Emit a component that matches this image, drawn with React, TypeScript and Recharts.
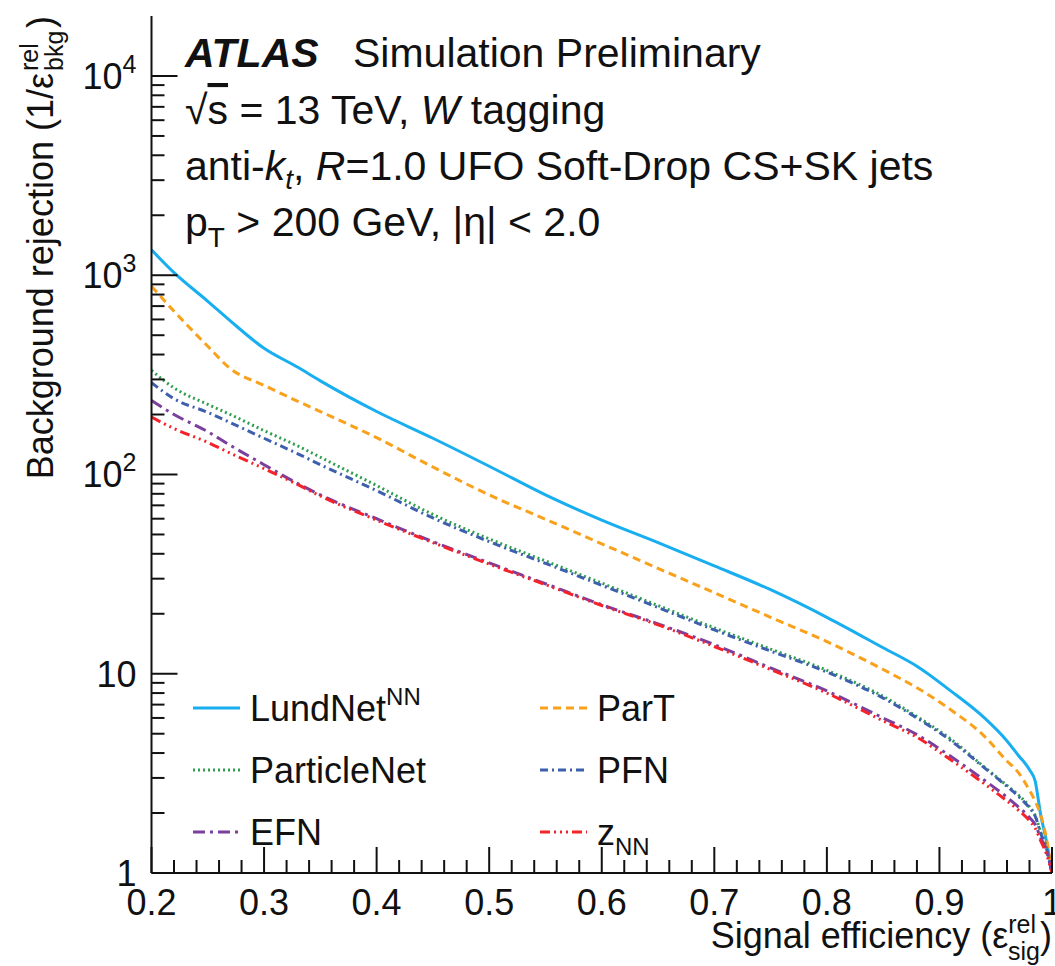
import React from 'react'
import { LineChart, Line, XAxis, YAxis } from 'recharts'

// signal efficiency points and background rejection per tagger
const efficiency = [0.2, 0.22, 0.25, 0.27, 0.3, 0.33, 0.35, 0.4, 0.45, 0.5, 0.55, 0.6, 0.65, 0.7, 0.75, 0.8, 0.85, 0.88, 0.91, 0.94, 0.96, 0.97, 0.98, 0.985, 0.99, 0.995, 1.0]
const lundNet = [1340, 1030, 740, 590, 430, 345, 295, 207, 152, 110, 79, 59, 45.5, 34.8, 26.4, 19.2, 13.5, 10.9, 8.2, 6.0, 4.6, 3.9, 3.3, 2.9, 1.95, 1.45, 1.0]
const parT = [880, 660, 440, 340, 280, 233, 207, 153, 109, 79, 59.6, 44.9, 33.8, 25.5, 19.2, 14.5, 10.5, 8.5, 6.6, 4.85, 3.65, 3.2, 2.6, 2.3, 1.95, 1.5, 1.0]
const particleNet = [333, 272, 225, 200, 166, 139, 122, 88, 63, 47.5, 36.8, 28.5, 22, 17, 13.3, 10.4, 7.7, 6.1, 4.7, 3.4, 2.75, 2.47, 2.15, 1.95, 1.6, 1.35, 1.0]
const pfn = [289, 240, 205, 182, 152, 127, 112, 83, 60.5, 46, 35.8, 27.8, 21.5, 16.6, 13.0, 10.2, 7.55, 6.0, 4.62, 3.37, 2.72, 2.43, 2.12, 1.93, 1.58, 1.33, 1.0]
const efn = [235, 200, 164, 140, 112, 90, 79, 60, 46, 36, 28.3, 22.2, 17.8, 14.0, 10.7, 8.2, 6.0, 4.95, 3.85, 2.92, 2.4, 2.15, 1.9, 1.75, 1.5, 1.3, 1.0]
const zNN = [194, 170, 145, 128, 107, 89, 78, 59, 45.5, 35.5, 28, 22, 17.6, 13.7, 10.5, 8.0, 5.8, 4.8, 3.7, 2.8, 2.3, 2.07, 1.83, 1.68, 1.45, 1.25, 1.0]

const xMajorTicks = [0.2, 0.3, 0.4, 0.5, 0.6, 0.7, 0.8, 0.9, 1.0]
const yMajorTicks = [1, 10, 100, 1000, 10000]

const FONT = '"Liberation Sans", Arial, Helvetica, sans-serif'
const INK = '#111'

const SERIES = [
  { key: 'lundNet', label: 'LundNet', sup: 'NN', sub: '', color: '#18aef0', dash: undefined, values: lundNet },
  { key: 'parT', label: 'ParT', sup: '', sub: '', color: '#f9a11b', dash: '8 5', values: parT },
  { key: 'particleNet', label: 'ParticleNet', sup: '', sub: '', color: '#2f9e4f', dash: '2 3', values: particleNet },
  { key: 'pfn', label: 'PFN', sup: '', sub: '', color: '#3d5fae', dash: '8 4 2 4', values: pfn },
  { key: 'efn', label: 'EFN', sup: '', sub: '', color: '#7b3f9e', dash: '12 5 3 5', values: efn },
  { key: 'zNN', label: 'z', sup: '', sub: 'NN', color: '#f5222a', dash: '10 4 2 4 2 4 2 4', values: zNN },
]

const rows = efficiency.map((eff, i) => {
  const row: Record<string, number> = { eff }
  SERIES.forEach((s) => { row[s.key] = s.values[i] })
  return row
})

// minor ticks every 0.02 on x, 2..9 per decade on y
const xTicks: number[] = []
for (let k = 0; k <= 40; k++) xTicks.push(Math.round((0.2 + k * 0.02) * 1000) / 1000)
const yTicks: number[] = []
yMajorTicks.forEach((d) => {
  yTicks.push(d)
  if (d < 10000) for (let m = 2; m <= 9; m++) yTicks.push(d * m)
})

const isMajorX = (v: number) => xMajorTicks.some((t) => Math.abs(t - v) < 1e-6)
const isMajorY = (v: number) => yMajorTicks.includes(v)

function BottomTick({ x, y, payload }: any) {
  const v = payload.value
  const major = isMajorX(v)
  return (
    <g>
      <line x1={x} y1={y} x2={x} y2={y - (major ? 26 : 13)} stroke={INK} strokeWidth={2} />
      {major && (
        <text x={x} y={y + 42} textAnchor="middle" fontSize={36} fontFamily={FONT} fill={INK}>
          {v === 1 ? '1' : v.toFixed(1)}
        </text>
      )}
    </g>
  )
}

function TopTick({ x, y, payload }: any) {
  const major = isMajorX(payload.value)
  return <line x1={x} y1={y} x2={x} y2={y + (major ? 26 : 13)} stroke={INK} strokeWidth={2} />
}

function LeftTick({ x, y, payload }: any) {
  const v = payload.value
  const major = isMajorY(v)
  const exp = Math.round(Math.log10(v))
  return (
    <g>
      <line x1={x} y1={y} x2={x + (major ? 26 : 13)} y2={y} stroke={INK} strokeWidth={2} />
      {major && (
        <text x={x - 15} y={y + 13} textAnchor="end" fontSize={36} fontFamily={FONT} fill={INK}>
          {exp <= 1 ? String(v) : (
            <>
              10<tspan fontSize={25} dy={-16}>{exp}</tspan>
            </>
          )}
        </text>
      )}
    </g>
  )
}

function RightTick({ x, y, payload }: any) {
  const major = isMajorY(payload.value)
  return <line x1={x} y1={y} x2={x - (major ? 26 : 13)} y2={y} stroke={INK} strokeWidth={2} />
}

function Overlay() {
  const legendX = [193, 540]
  const legendY = [708, 770, 832]
  return (
    <svg width={1055} height={966} style={{ position: 'absolute', left: 0, top: 0, pointerEvents: 'none' }} fontFamily={FONT}>
      <g fill={INK} fontSize={41}>
        <text x={185} y={67} fontWeight="bold" fontStyle="italic">ATLAS</text>
        <text x={353} y={67}>Simulation Preliminary</text>
        <text x={185} y={124}>
          √<tspan style={{ textDecoration: 'overline' }}>s</tspan> = 13 TeV, <tspan fontStyle="italic">W</tspan> tagging
        </text>
        <text x={185} y={180}>
          anti-<tspan fontStyle="italic">k</tspan>
          <tspan fontStyle="italic" fontSize={28} dy={9}>t</tspan>
          <tspan dy={-9}>, </tspan>
          <tspan fontStyle="italic">R</tspan>=1.0 UFO Soft-Drop CS+SK jets
        </text>
        <text x={185} y={236}>
          p<tspan fontSize={28} dy={11}>T</tspan>
          <tspan dy={-11}> &gt; 200 GeV, |η| &lt; 2.0</tspan>
        </text>
      </g>

      {/* axis titles */}
      <g fill={INK} fontSize={36}>
        <text x={1052} y={948} textAnchor="end">
          Signal efficiency (ε<tspan fontSize={25} dy={-15}>rel</tspan>
          <tspan fontSize={25} dx={-28} dy={27}>sig</tspan>
          <tspan dy={-12}>)</tspan>
        </text>
        <g transform="translate(53, 16) rotate(-90)">
          <text x={0} y={0} textAnchor="end">)</text>
          <text x={-55} y={-15} fontSize={25}>rel</text>
          <text x={-55} y={10} fontSize={25}>bkg</text>
          <text x={-57} y={0} textAnchor="end">Background rejection (1/ε</text>
        </g>
      </g>

      {/* legend */}
      {SERIES.map((s, i) => {
        const lx = legendX[i % 2]
        const ly = legendY[Math.floor(i / 2)]
        return (
          <g key={s.key}>
            <line x1={lx} y1={ly} x2={lx + 47} y2={ly} stroke={s.color} strokeWidth={3} strokeDasharray={s.dash} />
            <text x={lx + 57} y={ly + 13} fontSize={36} fill={INK}>
              {s.label}
              {s.sup && <tspan fontSize={24} dy={-16}>{s.sup}</tspan>}
              {s.sub && <tspan fontSize={24} dy={10}>{s.sub}</tspan>}
            </text>
          </g>
        )
      })}
    </svg>
  )
}

export default function App() {
  return (
    <div style={{ position: 'absolute', left: 0, top: 0, width: 1055, height: 966, background: '#fff' }}>
      <LineChart width={1055} height={966} data={rows} margin={{ top: 16, right: 3, bottom: 0, left: 0 }}>
        <XAxis
          dataKey="eff"
          type="number"
          domain={[0.2, 1]}
          ticks={xTicks}
          interval={0}
          height={93}
          tickSize={0}
          tickMargin={0}
          tick={BottomTick}
          axisLine={{ stroke: INK, strokeWidth: 2 }}
          tickLine={false}
          allowDataOverflow
        />
        <XAxis
          xAxisId="top"
          orientation="top"
          type="number"
          domain={[0.2, 1]}
          ticks={xTicks}
          interval={0}
          height={0}
          tickSize={0}
          tickMargin={0}
          tick={TopTick}
          axisLine={{ stroke: INK, strokeWidth: 2 }}
          tickLine={false}
          allowDataOverflow
        />
        <YAxis
          type="number"
          scale="log"
          domain={[1, 20000]}
          ticks={yTicks}
          interval={0}
          width={151.5}
          tickSize={0}
          tickMargin={0}
          tick={LeftTick}
          axisLine={{ stroke: INK, strokeWidth: 2 }}
          tickLine={false}
          allowDataOverflow
        />
        <YAxis
          yAxisId="right"
          orientation="right"
          type="number"
          scale="log"
          domain={[1, 20000]}
          ticks={yTicks}
          interval={0}
          width={0}
          tickSize={0}
          tickMargin={0}
          tick={RightTick}
          axisLine={{ stroke: INK, strokeWidth: 2 }}
          tickLine={false}
          allowDataOverflow
        />
        {SERIES.map((s) => (
          <Line
            key={s.key}
            dataKey={s.key}
            type="monotone"
            stroke={s.color}
            strokeWidth={3}
            strokeDasharray={s.dash}
            dot={false}
            isAnimationActive={false}
          />
        ))}
      </LineChart>
      <Overlay />
    </div>
  )
}
